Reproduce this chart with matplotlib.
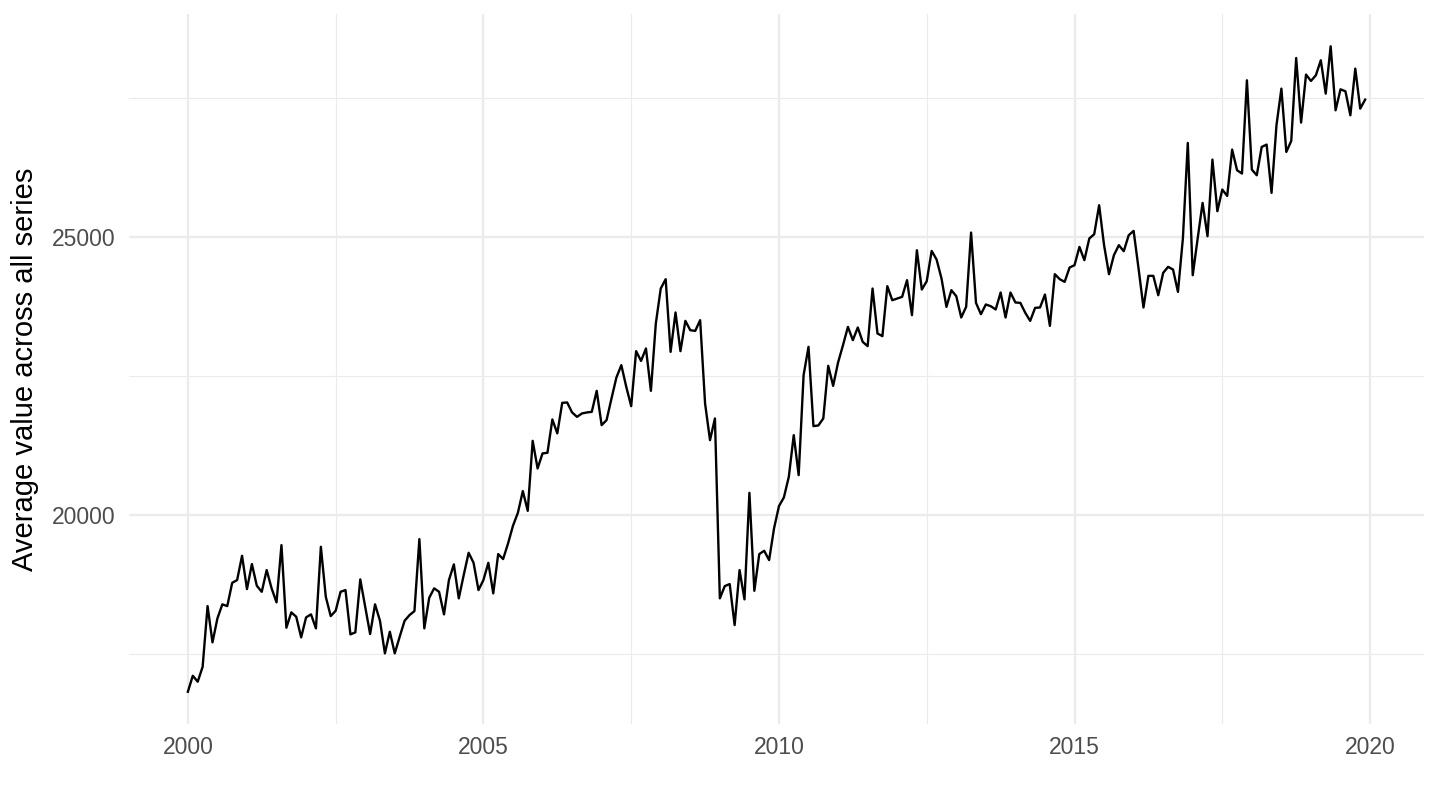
import matplotlib
matplotlib.use("Agg")
import matplotlib.pyplot as plt
import numpy as np

plt.rcParams['font.family'] = ['Liberation Sans', 'DejaVu Sans']

start_year = 2000
values = [
    16822, 17109, 17002, 17271, 18363, 17710, 18142, 18394, 18363, 18782, 18831, 19268,
    18669, 19119, 18728, 18620, 19011, 18682, 18430, 19460, 17973, 18250, 18171, 17800,
    18160, 18214, 17962, 19430, 18530, 18183, 18278, 18620, 18651, 17854, 17890, 18843,
    18350, 17860, 18394, 18099, 17512, 17901, 17512, 17811, 18099, 18201, 18273, 19568,
    17962, 18513, 18682, 18620, 18214, 18831, 19113, 18502, 18921, 19322, 19142, 18651,
    18831, 19142, 18592, 19299, 19209, 19490, 19808, 20042, 20432, 20077, 21336, 20840,
    21110, 21121, 21721, 21470, 22020, 22027, 21847, 21768, 21829, 21847, 21858, 22236,
    21619, 21709, 22098, 22476, 22698, 22308, 21961, 22950, 22775, 22998, 22236, 23448,
    24077, 24245, 22937, 23646, 22950, 23495, 23327, 23315, 23507, 22009, 21349, 21739,
    18502, 18723, 18759, 18021, 19011, 18484, 20401, 18638, 19299, 19358, 19191, 19761,
    20162, 20318, 20689, 21439, 20719, 22518, 23028, 21601, 21613, 21739, 22686, 22326,
    22746, 23058, 23387, 23148, 23376, 23117, 23040, 24077, 23268, 23220, 24119, 23867,
    23898, 23927, 24227, 23597, 24766, 24059, 24209, 24754, 24599, 24257, 23747, 24047,
    23939, 23556, 23747, 25084, 23819, 23615, 23790, 23759, 23700, 24005, 23556, 24005,
    23826, 23819, 23640, 23495, 23729, 23736, 23969, 23405, 24335, 24245, 24197, 24455,
    24497, 24826, 24587, 24977, 25054, 25576, 24857, 24335, 24677, 24857, 24749, 25036,
    25114, 24437, 23736, 24305, 24305, 23957, 24359, 24467, 24419, 24017, 24977, 26697,
    24317, 24977, 25618, 25018, 26397, 25468, 25858, 25743, 26577, 26205, 26146, 27824,
    26217, 26115, 26625, 26667, 25798, 27015, 27674, 26535, 26733, 28225, 27063, 27927,
    27812, 27914, 28184, 27584, 28436, 27284, 27662, 27626, 27194, 28034, 27314, 27476,
]
x_ticks = [2000, 2005, 2010, 2015, 2020]
y_ticks = [20000, 25000]
y_label = "Average value across all series"

dates = start_year + np.arange(len(values)) / 12.0
vals = np.array(values, dtype=float)

fig = plt.figure(figsize=(14.4, 8.1), dpi=100)
ax = fig.add_axes([129/1440, 1 - 724/810, (1424 - 129)/1440, (724 - 14)/810])

ax.plot(dates, vals, color='black', lw=1.7, solid_joinstyle='round', zorder=3)

xr = dates.max() - dates.min()
ax.set_xlim(dates.min() - 0.05 * xr, dates.max() + 0.05 * xr)
yr = vals.max() - vals.min()
ax.set_ylim(vals.min() - 0.05 * yr, vals.max() + 0.05 * yr)

ax.set_xticks(x_ticks)
ax.set_xticklabels([str(t) for t in x_ticks])
ax.set_yticks(y_ticks)
ax.set_yticklabels([str(t) for t in y_ticks])
ax.set_xticks([t + 2.5 for t in x_ticks[:-1]], minor=True)
ax.set_yticks([17500, 22500, 27500], minor=True)

ax.grid(True, which='major', color='#EBEBEB', lw=1.6, zorder=0)
ax.grid(True, which='minor', color='#EBEBEB', lw=0.8, zorder=0)
for s in ax.spines.values():
    s.set_visible(False)
ax.tick_params(which='both', length=0)
ax.tick_params(axis='both', labelsize=16.5, labelcolor='#4D4D4D')
ax.tick_params(axis='x', pad=9)
ax.tick_params(axis='y', pad=10)
ax.set_ylabel(y_label, fontsize=21, color='black', labelpad=9)

fig.savefig("out.png", dpi=100)
